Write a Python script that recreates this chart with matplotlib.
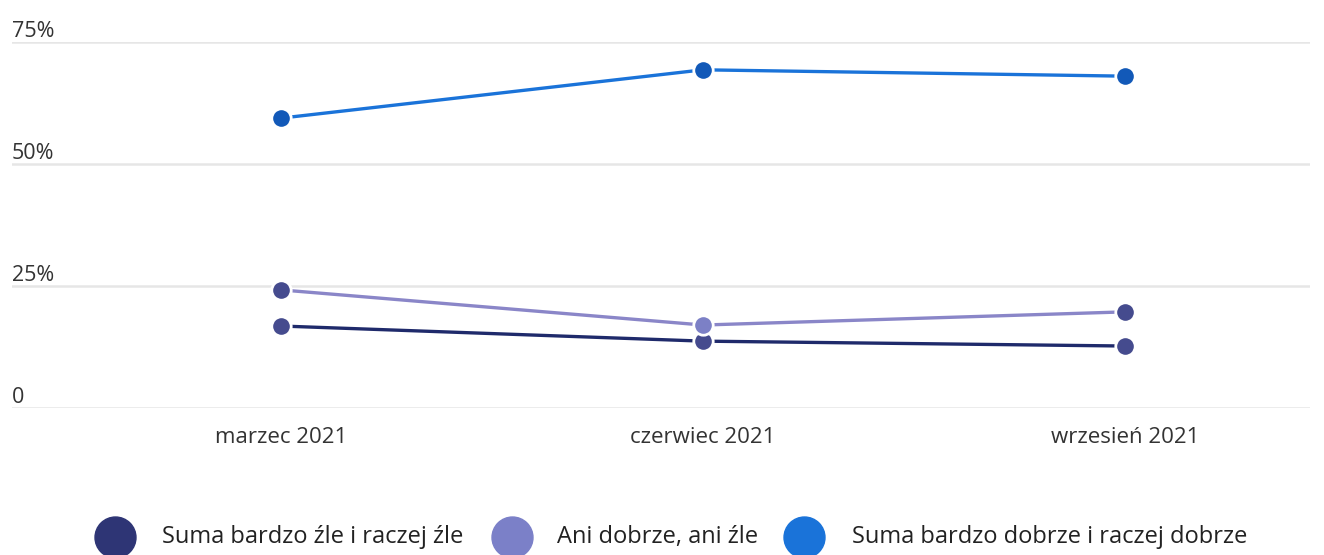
import matplotlib.pyplot as plt

plt.rcParams['font.family'] = ['Open Sans', 'DejaVu Sans']

# data
months = ["marzec 2021", "czerwiec 2021", "wrzesień 2021"]
zle = [16.8, 13.7, 12.7]
ani = [24.2, 17.0, 19.7]
dobrze = [59.4, 69.3, 68.0]
y_ticks = [0, 25, 50, 75]
y_labels = ["0", "25%", "50%", "75%"]
labels = ["Suma bardzo źle i raczej źle", "Ani dobrze, ani źle",
          "Suma bardzo dobrze i raczej dobrze"]

c_zle_line = '#1f2a6b'
c_zle_mark = '#454b8e'
c_ani_line = '#8a86c8'
c_ani_mark = ['#454b8e', '#7c80c6', '#454b8e']
c_dob_line = '#1a73d9'
c_dob_mark = '#1259b8'
legend_colors = ['#2e3575', '#7b80c8', '#1a73d9']

W, H = 1324, 555
fig = plt.figure(figsize=(W / 100, H / 100), dpi=100)
ax = fig.add_axes([12 / W, (H - 408) / H, (1310 - 12) / W, (408 - 42) / H])

x = list(range(len(months)))
ax.set_xlim((12 - 281) / 422, (1310 - 281) / 422)
ax.set_ylim(0, 75)

for v in y_ticks:
    ax.axhline(v, color='#e6e6e6', lw=1.8, zorder=0)
for v, t in zip(y_ticks, y_labels):
    ax.annotate(t, xy=(0, v), xycoords=('axes fraction', 'data'),
                xytext=(0, 0), textcoords='offset pixels',
                ha='left', va='bottom', fontsize=15.5, color='#333333')

ms = 14
ax.plot(x, zle, color=c_zle_line, lw=2.4, zorder=2)
ax.plot(x, zle, 'o', color=c_zle_mark, ms=ms, mec='white', mew=2, zorder=3, clip_on=False)
ax.plot(x, ani, color=c_ani_line, lw=2.4, zorder=2)
for xi, yi, c in zip(x, ani, c_ani_mark):
    ax.plot(xi, yi, 'o', color=c, ms=ms, mec='white', mew=2, zorder=4, clip_on=False)
ax.plot(x, dobrze, color=c_dob_line, lw=2.4, zorder=2)
ax.plot(x, dobrze, 'o', color=c_dob_mark, ms=ms, mec='white', mew=2, zorder=3, clip_on=False)

ax.set_xticks(x)
ax.set_xticklabels(months, fontsize=16, color='#333333')
ax.set_yticks([])
ax.tick_params(axis='x', length=0, pad=14)
for s in ax.spines.values():
    s.set_visible(False)
ax.patch.set_alpha(0)

# legend drawn by hand in pixel coords
lg = fig.add_axes([0, 0, 1, 1], zorder=-1)
lg.set_xlim(0, W)
lg.set_ylim(H, 0)
lg.axis('off')
mark_x = [115, 512, 804]
text_x = [162, 557, 852]
for mx, tx, c, t in zip(mark_x, text_x, legend_colors, labels):
    lg.plot(mx, 537, 'o', ms=29.5, color=c, clip_on=False)
    lg.text(tx, 537, t, fontsize=17, color='#222222', ha='left', va='center')

fig.savefig('out.png', dpi=100, facecolor='white')
